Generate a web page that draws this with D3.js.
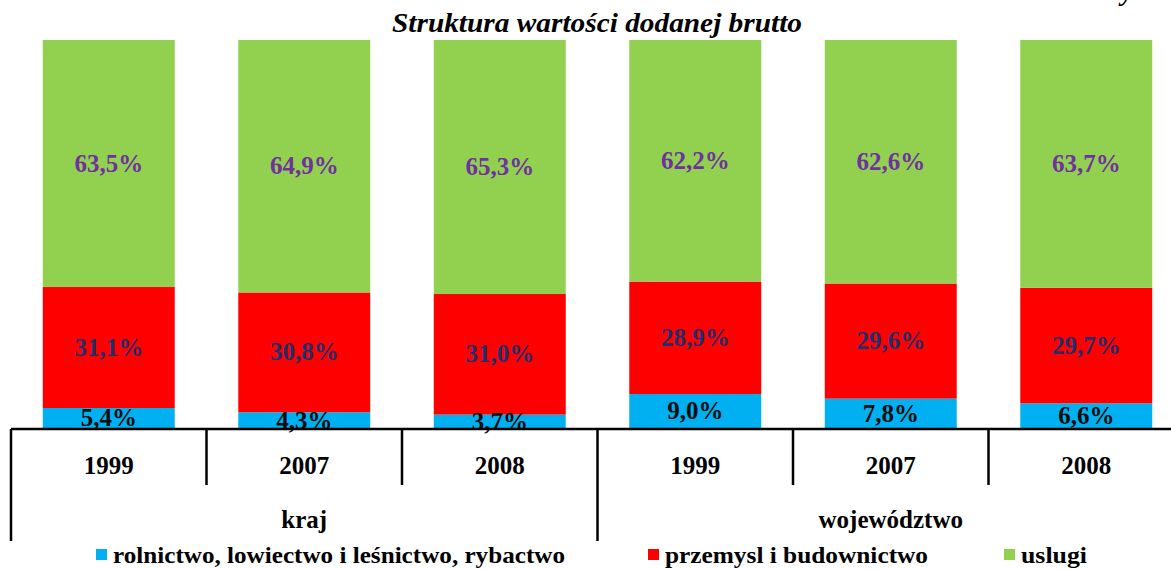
<!DOCTYPE html>
<html>
<head>
<meta charset="utf-8">
<script src="https://cdn.jsdelivr.net/npm/d3@7"></script>
<style>
  body { margin: 0; background: #fff; }
  svg { display: block; font-family: "Liberation Serif", "Times New Roman", serif; }
  .val { font-size: 25px; font-weight: bold; }
  .year { font-size: 25px; font-weight: bold; }
  .grp { font-size: 25px; font-weight: bold; }
  .leg { font-size: 23px; font-weight: bold; }
</style>
</head>
<body>
<div class="graphbox"></div>
<script>
var years = ["1999", "2007", "2008", "1999", "2007", "2008"]
var groups = ["kraj", "województwo"]
var rolnictwo = [5.4, 4.3, 3.7, 9.0, 7.8, 6.6]
var przemysl = [31.1, 30.8, 31.0, 28.9, 29.6, 29.7]
var uslugi = [63.5, 64.9, 65.3, 62.2, 62.6, 63.7]
var seriesNames = ["rolnictwo, lowiectwo i leśnictwo, rybactwo", "przemysl i budownictwo", "uslugi"]
var seriesCols = ["#00B0F0", "#FF0000", "#92D050"]
var labelCols = ["#0D0D0D", "#1F2F6B", "#7030A0"]

var svgWidth = 1171;
var svgHeight = 569;
var baseY = 429;
var left = 11;
var step = 195.5;

var mysvg = d3.select(".graphbox")
  .append("svg")
  .attr("width", svgWidth)
  .attr("height", svgHeight);

var x = d3.scaleBand()
  .domain(d3.range(years.length))
  .range([left, left + step * years.length])
  .paddingInner(0.325)
  .paddingOuter(0.1625);

var y = d3.scaleLinear().domain([0, 100]).range([baseY, 40]);

// stack the three series
var rows = years.map(function(d, i) { return { i: i, s0: rolnictwo[i], s1: przemysl[i], s2: uslugi[i] }; });
var stacked = d3.stack().keys(["s0", "s1", "s2"])(rows);

mysvg.append("clipPath").attr("id", "plot")
  .append("rect").attr("x", 0).attr("y", 40).attr("width", svgWidth).attr("height", baseY - 40);

var layers = mysvg.append("g").attr("clip-path", "url(#plot)")
  .selectAll("g")
  .data(stacked)
  .enter()
  .append("g")
  .attr("fill", function(d, k) { return seriesCols[k]; });

layers.selectAll("rect")
  .data(function(d) { return d; })
  .enter()
  .append("rect")
  .attr("x", function(d) { return x(d.data.i); })
  .attr("y", function(d) { return y(d[1]); })
  .attr("width", x.bandwidth())
  .attr("height", function(d) { return y(d[0]) - y(d[1]); });

// value labels
stacked.forEach(function(layer, k) {
  mysvg.append("g").selectAll("text")
    .data(layer)
    .enter()
    .append("text")
    .attr("class", "val")
    .attr("fill", labelCols[k])
    .attr("text-anchor", "middle")
    .attr("x", function(d) { return x(d.data.i) + x.bandwidth() / 2; })
    .attr("y", function(d) { return (y(d[0]) + y(d[1])) / 2 + 8; })
    .text(function(d) { return (d[1] - d[0]).toFixed(1).replace(".", ",") + "%"; });
});

// axis line and category dividers
mysvg.append("line")
  .attr("x1", left).attr("x2", svgWidth)
  .attr("y1", baseY).attr("y2", baseY)
  .attr("stroke", "black").attr("stroke-width", 2.5);

mysvg.selectAll(".div")
  .data(d3.range(years.length + 1))
  .enter()
  .append("line")
  .attr("x1", function(d) { return left + d * step; })
  .attr("x2", function(d) { return left + d * step; })
  .attr("y1", baseY)
  .attr("y2", function(d) { return d % 3 == 0 ? 541 : 485; })
  .attr("stroke", "black").attr("stroke-width", 2.5);

mysvg.selectAll(".year")
  .data(years)
  .enter()
  .append("text")
  .attr("class", "year")
  .attr("text-anchor", "middle")
  .attr("x", function(d, i) { return x(i) + x.bandwidth() / 2; })
  .attr("y", 474)
  .text(function(d) { return d; });

mysvg.selectAll(".grp")
  .data(groups)
  .enter()
  .append("text")
  .attr("class", "grp")
  .attr("text-anchor", "middle")
  .attr("x", function(d, i) { return left + (i * 3 + 1.5) * step; })
  .attr("y", 528)
  .text(function(d) { return d; });

// title
mysvg.append("text")
  .attr("x", 392).attr("y", 32)
  .attr("textLength", 410)
  .attr("lengthAdjust", "spacingAndGlyphs")
  .style("font-size", "28px").style("font-weight", "bold").style("font-style", "italic")
  .text("Struktura wartości dodanej brutto");

// caption above the chart, mostly outside the picture as in the source
mysvg.append("text")
  .attr("x", 1200).attr("y", 0)
  .attr("text-anchor", "end")
  .style("font-size", "27px").style("font-weight", "bold").style("font-style", "italic")
  .text("Wykres 5");

// legend
var legX = [96, 648, 1004];
var legW = [452, 263, 66];
var leg = mysvg.selectAll(".legitem")
  .data(seriesNames)
  .enter()
  .append("g");

leg.append("rect")
  .attr("x", function(d, i) { return legX[i]; })
  .attr("y", 549)
  .attr("width", 11).attr("height", 11)
  .attr("fill", function(d, i) { return seriesCols[i]; });

leg.append("text")
  .attr("class", "leg")
  .attr("x", function(d, i) { return legX[i] + 17; })
  .attr("y", 563)
  .attr("textLength", function(d, i) { return legW[i]; })
  .attr("lengthAdjust", "spacingAndGlyphs")
  .text(function(d) { return d; });
</script>
</body>
</html>
